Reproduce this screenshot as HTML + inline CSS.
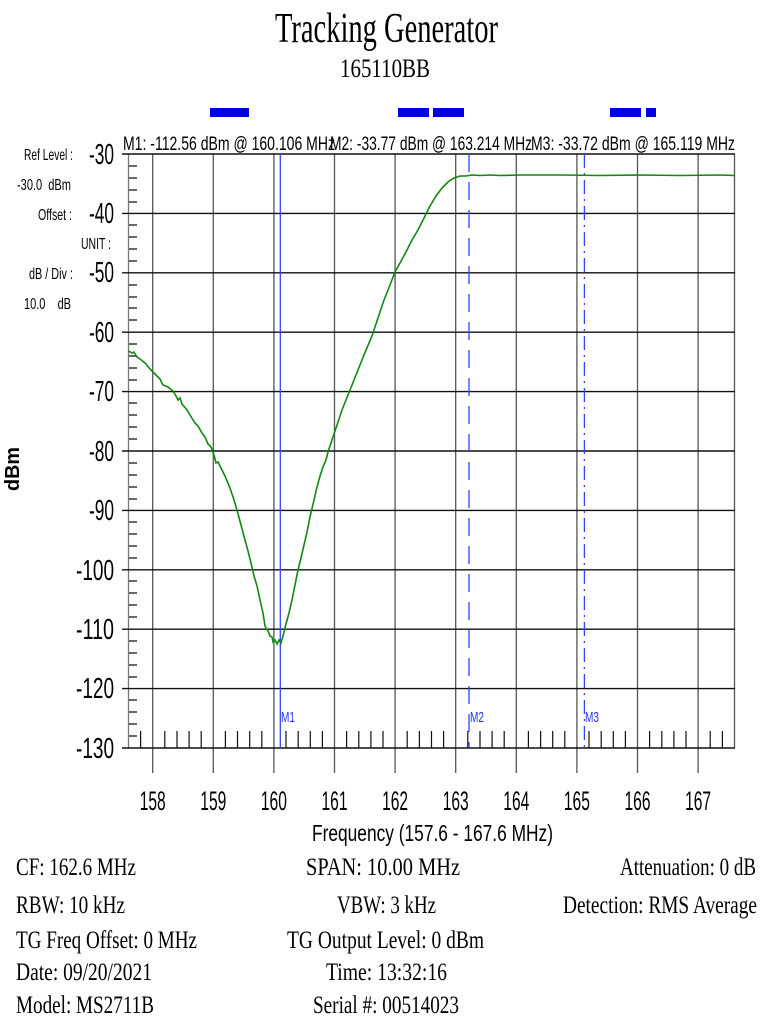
<!DOCTYPE html>
<html><head><meta charset="utf-8"><style>html,body{margin:0;padding:0;background:#fff}svg{display:block}</style></head>
<body>
<svg width="768" height="1024" viewBox="0 0 768 1024" xmlns="http://www.w3.org/2000/svg">
<rect width="768" height="1024" fill="#fff"/>
<g font-family="Liberation Serif, serif" fill="#000">
<text x="275" y="42" font-size="42" textLength="223" lengthAdjust="spacingAndGlyphs">Tracking Generator</text>
<text x="340" y="77" font-size="26" textLength="90" lengthAdjust="spacingAndGlyphs">165110BB</text>
</g>
<g fill="#0000dd">
<rect x="210" y="108" width="39" height="9"/>
<rect x="398" y="108" width="31" height="9"/>
<rect x="433" y="108" width="31" height="9"/>
<rect x="610" y="108" width="31" height="9"/>
<rect x="646" y="108" width="10" height="9"/>
</g>
<g font-family="Liberation Sans, sans-serif" font-size="19" fill="#000">
<text x="123" y="150" textLength="212" lengthAdjust="spacingAndGlyphs">M1: -112.56 dBm @ 160.106 MHz</text>
<text x="330" y="150" textLength="202" lengthAdjust="spacingAndGlyphs">M2: -33.77 dBm @ 163.214 MHz</text>
<text x="531" y="150" textLength="204" lengthAdjust="spacingAndGlyphs">M3: -33.72 dBm @ 165.119 MHz</text>
</g>
<g stroke="#555" stroke-width="1.3">
<line x1="152.7" y1="154" x2="152.7" y2="773"/>
<line x1="213.3" y1="154" x2="213.3" y2="773"/>
<line x1="273.9" y1="154" x2="273.9" y2="773"/>
<line x1="334.5" y1="154" x2="334.5" y2="773"/>
<line x1="395.1" y1="154" x2="395.1" y2="773"/>
<line x1="455.7" y1="154" x2="455.7" y2="773"/>
<line x1="516.3" y1="154" x2="516.3" y2="773"/>
<line x1="576.9" y1="154" x2="576.9" y2="773"/>
<line x1="637.5" y1="154" x2="637.5" y2="773"/>
<line x1="698.1" y1="154" x2="698.1" y2="773"/>
<line x1="734.5" y1="154" x2="734.5" y2="748"/>
</g>
<line x1="128.5" y1="154" x2="128.5" y2="748" stroke="#777" stroke-width="1.3"/>
<g stroke="#111" stroke-width="1.4">
<line x1="122" y1="154" x2="735" y2="154"/>
<line x1="122" y1="213.4" x2="735" y2="213.4"/>
<line x1="122" y1="272.8" x2="735" y2="272.8"/>
<line x1="122" y1="332.2" x2="735" y2="332.2"/>
<line x1="122" y1="391.6" x2="735" y2="391.6"/>
<line x1="122" y1="451" x2="735" y2="451"/>
<line x1="122" y1="510.4" x2="735" y2="510.4"/>
<line x1="122" y1="569.8" x2="735" y2="569.8"/>
<line x1="122" y1="629.2" x2="735" y2="629.2"/>
<line x1="122" y1="688.6" x2="735" y2="688.6"/>
<line x1="122" y1="748" x2="735" y2="748"/>
</g>
<g stroke="#111" stroke-width="1.3">
<path d="M129 166h8M129 178h8M129 190h8M129 202h8M129 225h8M129 237h8M129 249h8M129 261h8M129 285h8M129 297h8M129 308h8M129 320h8M129 344h8M129 356h8M129 368h8M129 380h8M129 403h8M129 415h8M129 427h8M129 439h8M129 463h8M129 475h8M129 487h8M129 499h8M129 522h8M129 534h8M129 546h8M129 558h8M129 581h8M129 593h8M129 605h8M129 617h8M129 641h8M129 653h8M129 665h8M129 677h8M129 700h8M129 712h8M129 724h8M129 736h8"/>
</g>
<g stroke="#111" stroke-width="1.2">
<path d="M140.6 731v17M164.8 731v17M177 731v17M189.1 731v17M201.2 731v17M225.4 731v17M237.5 731v17M249.7 731v17M261.8 731v17M286 731v17M298.2 731v17M310.3 731v17M322.4 731v17M346.6 731v17M358.8 731v17M370.9 731v17M383 731v17M407.2 731v17M419.4 731v17M431.5 731v17M443.6 731v17M467.8 731v17M480 731v17M492.1 731v17M504.2 731v17M528.4 731v17M540.6 731v17M552.7 731v17M564.8 731v17M589 731v17M601.2 731v17M613.3 731v17M625.4 731v17M649.6 731v17M661.8 731v17M673.9 731v17M686 731v17M710.2 731v17M722.4 731v17"/>
</g>
<g stroke="#3344ff" stroke-width="1.3">
<line x1="280.3" y1="154" x2="280.3" y2="748"/>
<line x1="469" y1="154" x2="469" y2="748" stroke-dasharray="18,10"/>
<line x1="584.4" y1="154" x2="584.4" y2="748" stroke-dasharray="14,5,2,5"/>
</g>
<g font-family="Liberation Sans, sans-serif" font-size="15" fill="#2233ff">
<text x="281" y="722" textLength="14" lengthAdjust="spacingAndGlyphs">M1</text><text x="470" y="722" textLength="14" lengthAdjust="spacingAndGlyphs">M2</text><text x="585" y="722" textLength="14" lengthAdjust="spacingAndGlyphs">M3</text>
</g>
<polyline fill="none" stroke="#118811" stroke-width="1.6" points="128.5,351 132,353 134,352 137,357 140,359 145,363 150,369 155,374 160,379 163,385 168,387 173,391 176,396 178,400 180,398 182,404 187,410 190,415 195,423 198,426 202,433 205,437 208,444 211,447 214,455 216,463 218,462 221,468 225,476 230,488 234,500 237,510 241,525 245,540 248,551 251,563 254,576 257,586 260,600 263,613 265,626 268,631 270,636 272,637 273,642 275,640 277,644 279,640 281,643 283,636 286,624 289,613 292,600 295,585 298,570 301,558 304,545 307,532 310,517 314,500 317,487 320,476 323,467 326,460 328,452 331,443 336,428 342,410 348,395 354,380 360,365 366,350 372,336 378,318 384,300 390,285 395,272 400,263 406,252 412,240 418,230 424,218 430,206 436,196 442,188 448,182 454,178 460,176 466,176 472,175 480,175.5 490,175 500,175.5 520,175 560,175 600,175.5 640,175 680,175.5 720,175 735,175.5"/>
<g font-family="Liberation Sans, sans-serif" font-size="29" fill="#000">
<text x="89" y="164" textLength="25" lengthAdjust="spacingAndGlyphs">-30</text>
<text x="89" y="223" textLength="25" lengthAdjust="spacingAndGlyphs">-40</text>
<text x="89" y="282" textLength="25" lengthAdjust="spacingAndGlyphs">-50</text>
<text x="89" y="342" textLength="25" lengthAdjust="spacingAndGlyphs">-60</text>
<text x="89" y="401" textLength="25" lengthAdjust="spacingAndGlyphs">-70</text>
<text x="89" y="461" textLength="25" lengthAdjust="spacingAndGlyphs">-80</text>
<text x="89" y="520" textLength="25" lengthAdjust="spacingAndGlyphs">-90</text>
<text x="76" y="580" textLength="38" lengthAdjust="spacingAndGlyphs">-100</text>
<text x="76" y="639" textLength="38" lengthAdjust="spacingAndGlyphs">-110</text>
<text x="76" y="698" textLength="38" lengthAdjust="spacingAndGlyphs">-120</text>
<text x="76" y="758" textLength="38" lengthAdjust="spacingAndGlyphs">-130</text>
</g>
<g font-family="Liberation Sans, sans-serif" font-size="16" fill="#000">
<text x="24" y="160" textLength="49" lengthAdjust="spacingAndGlyphs">Ref Level :</text>
<text x="17" y="190" textLength="54" lengthAdjust="spacingAndGlyphs" xml:space="preserve">-30.0  dBm</text>
<text x="38" y="220" textLength="34" lengthAdjust="spacingAndGlyphs">Offset :</text>
<text x="81" y="249" textLength="30" lengthAdjust="spacingAndGlyphs">UNIT :</text>
<text x="29" y="279" textLength="44" lengthAdjust="spacingAndGlyphs">dB / Div :</text>
<text x="24" y="309" textLength="47" lengthAdjust="spacingAndGlyphs" xml:space="preserve">10.0    dB</text>
</g>
<text x="0" y="0" font-family="Liberation Sans, sans-serif" font-size="20" font-weight="bold" textLength="44" lengthAdjust="spacingAndGlyphs" transform="translate(19,491) rotate(-90)">dBm</text>
<g font-family="Liberation Sans, sans-serif" font-size="27" fill="#000" text-anchor="middle">
<text x="152.7" y="810" textLength="26" lengthAdjust="spacingAndGlyphs">158</text>
<text x="213.3" y="810" textLength="26" lengthAdjust="spacingAndGlyphs">159</text>
<text x="273.9" y="810" textLength="26" lengthAdjust="spacingAndGlyphs">160</text>
<text x="334.5" y="810" textLength="26" lengthAdjust="spacingAndGlyphs">161</text>
<text x="395.1" y="810" textLength="26" lengthAdjust="spacingAndGlyphs">162</text>
<text x="455.7" y="810" textLength="26" lengthAdjust="spacingAndGlyphs">163</text>
<text x="516.3" y="810" textLength="26" lengthAdjust="spacingAndGlyphs">164</text>
<text x="576.9" y="810" textLength="26" lengthAdjust="spacingAndGlyphs">165</text>
<text x="637.5" y="810" textLength="26" lengthAdjust="spacingAndGlyphs">166</text>
<text x="698.1" y="810" textLength="26" lengthAdjust="spacingAndGlyphs">167</text>
</g>
<text x="312" y="841" font-family="Liberation Sans, sans-serif" font-size="23" textLength="241" lengthAdjust="spacingAndGlyphs">Frequency (157.6 - 167.6 MHz)</text>
<g font-family="Liberation Serif, serif" font-size="25" fill="#000">
<text x="16" y="875" textLength="120" lengthAdjust="spacingAndGlyphs">CF: 162.6 MHz</text>
<text x="16" y="913" textLength="109" lengthAdjust="spacingAndGlyphs">RBW: 10 kHz</text>
<text x="16" y="948" textLength="181" lengthAdjust="spacingAndGlyphs">TG Freq Offset: 0 MHz</text>
<text x="16" y="980" textLength="136" lengthAdjust="spacingAndGlyphs">Date: 09/20/2021</text>
<text x="16" y="1013" textLength="138" lengthAdjust="spacingAndGlyphs">Model: MS2711B</text>
<text x="306" y="875" textLength="154" lengthAdjust="spacingAndGlyphs">SPAN: 10.00 MHz</text>
<text x="337" y="913" textLength="99" lengthAdjust="spacingAndGlyphs">VBW: 3 kHz</text>
<text x="287" y="948" textLength="197" lengthAdjust="spacingAndGlyphs">TG Output Level: 0 dBm</text>
<text x="326" y="980" textLength="121" lengthAdjust="spacingAndGlyphs">Time: 13:32:16</text>
<text x="313" y="1013" textLength="146" lengthAdjust="spacingAndGlyphs">Serial #: 00514023</text>
<text x="620" y="875" textLength="136" lengthAdjust="spacingAndGlyphs">Attenuation: 0 dB</text>
<text x="563" y="913" textLength="194" lengthAdjust="spacingAndGlyphs">Detection: RMS Average</text>
</g>
</svg>
</body></html>
